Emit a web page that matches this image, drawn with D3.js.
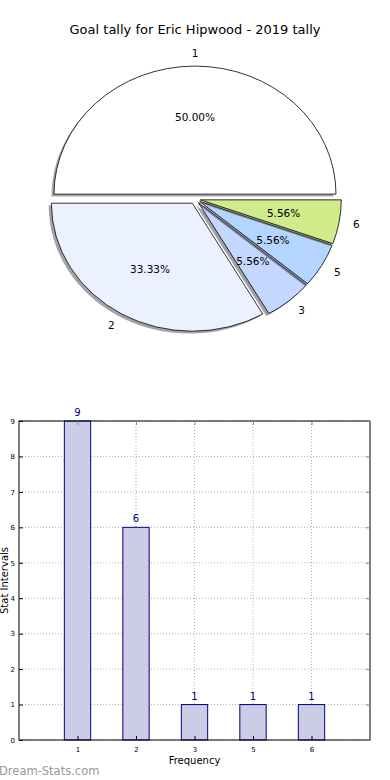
<!DOCTYPE html>
<html>
<head>
<meta charset="utf-8">
<script src="https://cdn.jsdelivr.net/npm/d3@7"></script>
<style>
  body { margin: 0; background: #fff; }
  text { font-family: "DejaVu Sans", sans-serif; }
</style>
</head>
<body>
<div id="chart"></div>
<script>
// data
var categories = ["1", "2", "3", "5", "6"];
var counts = [9, 6, 1, 1, 1];
var sliceColors = ["#ffffff", "#ebf1ff", "#c4d7ff", "#b4d5ff", "#cfeb8a"];
var yTicks = [0, 1, 2, 3, 4, 5, 6, 7, 8, 9];

var W = 390, H = 780;
var svg = d3.select("#chart").append("svg")
    .attr("width", W).attr("height", H);

// title
svg.append("text")
    .attr("x", 195).attr("y", 34)
    .attr("text-anchor", "middle")
    .style("font-size", "13px")
    .text("Goal tally for Eric Hipwood - 2019 tally");

// ---- pie ----
var cx = 195, cy = 199, rx = 141, ry = 128, explode = 0.038;
var total = d3.sum(counts);

var pie = d3.pie().sort(null)
    .startAngle(Math.PI / 2)
    .endAngle(Math.PI / 2 - 2 * Math.PI);
var arcs = pie(counts);
var arc = d3.arc().innerRadius(0).outerRadius(rx);

var pieG = svg.append("g");

arcs.forEach(function (d, i) {
    var mid = (d.startAngle + d.endAngle) / 2;
    var dx = Math.sin(mid) * explode * rx,
        dy = -Math.cos(mid) * explode * ry;
    var ox = cx + dx, oy = cy + dy;

    // shadow
    var c = d3.rgb(sliceColors[i]);
    pieG.append("path")
        .attr("d", arc(d))
        .attr("transform", "translate(" + (ox - 2.6) + "," + (oy + 2.4) + ") scale(1," + (ry / rx) + ")")
        .attr("fill", d3.rgb(c.r * 0.3, c.g * 0.3, c.b * 0.3))
        .attr("fill-opacity", 0.5);

    pieG.append("path")
        .attr("d", arc(d))
        .attr("transform", "translate(" + ox + "," + oy + ") scale(1," + (ry / rx) + ")")
        .attr("fill", sliceColors[i])
        .attr("stroke", "#000")
        .attr("stroke-width", 0.8)
        .attr("vector-effect", "non-scaling-stroke");

    // labels
    pieG.append("text")
        .attr("x", ox + Math.sin(mid) * 1.1 * rx)
        .attr("y", oy - Math.cos(mid) * 1.1 * ry)
        .attr("text-anchor", Math.sin(mid) > 0.01 ? "start" : (Math.sin(mid) < -0.01 ? "end" : "middle"))
        .attr("dy", "0.35em")
        .style("font-size", "10.5px")
        .text(categories[i]);

    pieG.append("text")
        .attr("x", ox + Math.sin(mid) * 0.6 * rx)
        .attr("y", oy - Math.cos(mid) * 0.6 * ry)
        .attr("text-anchor", "middle")
        .attr("dy", "0.35em")
        .style("font-size", "10.5px")
        .text((counts[i] / total * 100).toFixed(2) + "%");
});

// ---- bar chart ----
var bx0 = 19, bx1 = 370, by0 = 421, by1 = 740;

var x = d3.scaleLinear().domain([-1, categories.length]).range([bx0, bx1]);
var y = d3.scaleLinear().domain([0, 9]).range([by1, by0]);
var barW = x(0.45) - x(0);

var g = svg.append("g");

// grid
g.selectAll(".hgrid").data(yTicks).enter().append("line")
    .attr("x1", bx0).attr("x2", bx1)
    .attr("y1", function (d) { return y(d); })
    .attr("y2", function (d) { return y(d); })
    .attr("stroke", "#b0b0b0").attr("stroke-width", 1)
    .attr("stroke-dasharray", "1 2");
g.selectAll(".vgrid").data(categories).enter().append("line")
    .attr("x1", function (d, i) { return x(i); })
    .attr("x2", function (d, i) { return x(i); })
    .attr("y1", by0).attr("y2", by1)
    .attr("stroke", "#b0b0b0").attr("stroke-width", 1)
    .attr("stroke-dasharray", "1 2");

// bars
g.selectAll(".bar").data(counts).enter().append("rect")
    .attr("x", function (d, i) { return x(i) - barW / 2; })
    .attr("y", function (d) { return y(d); })
    .attr("width", barW)
    .attr("height", function (d) { return y(0) - y(d); })
    .attr("fill", "#cccce6")
    .attr("stroke", "#000080")
    .attr("stroke-width", 1);

// values
g.selectAll(".val").data(counts).enter().append("text")
    .attr("x", function (d, i) { return x(i); })
    .attr("y", function (d) { return y(d) - 5; })
    .attr("text-anchor", "middle")
    .attr("fill", "#000080")
    .style("font-size", "10px")
    .text(function (d) { return d; });

// frame
g.append("rect")
    .attr("x", bx0).attr("y", by0)
    .attr("width", bx1 - bx0).attr("height", by1 - by0)
    .attr("fill", "none").attr("stroke", "#000").attr("stroke-width", 1);

// axes (ticks inside)
g.append("g")
    .attr("transform", "translate(" + bx0 + ",0)")
    .call(d3.axisLeft(y).tickValues(yTicks).tickSize(-4).tickPadding(4))
    .call(function (a) {
        a.select(".domain").remove();
        a.selectAll("text").style("font-size", "7px").style("font-family", "DejaVu Sans");
    });
g.append("g")
    .attr("transform", "translate(" + bx1 + ",0)")
    .call(d3.axisRight(y).tickValues(yTicks).tickSize(-4).tickFormat(""))
    .call(function (a) { a.select(".domain").remove(); a.selectAll("line").attr("stroke", "#888"); });

var xAxis = d3.axisBottom(x)
    .tickValues(d3.range(categories.length))
    .tickFormat(function (i) { return categories[i]; })
    .tickSize(-4).tickPadding(7);
g.append("g")
    .attr("transform", "translate(0," + by1 + ")")
    .call(xAxis)
    .call(function (a) {
        a.select(".domain").remove();
        a.selectAll("text").style("font-size", "7px").style("font-family", "DejaVu Sans");
    });
g.append("g")
    .attr("transform", "translate(0," + by0 + ")")
    .call(d3.axisTop(x).tickValues(d3.range(categories.length)).tickSize(-4).tickFormat(""))
    .call(function (a) { a.select(".domain").remove(); a.selectAll("line").attr("stroke", "#888"); });

// axis labels
svg.append("text")
    .attr("transform", "translate(4," + ((by0 + by1) / 2) + ") rotate(-90)")
    .attr("text-anchor", "middle")
    .attr("dy", "0.35em")
    .style("font-size", "10px")
    .text("Stat Intervals");
svg.append("text")
    .attr("x", (bx0 + bx1) / 2).attr("y", 764)
    .attr("text-anchor", "middle")
    .style("font-size", "10px")
    .text("Frequency");

// watermark
svg.append("text")
    .attr("x", -1).attr("y", 775)
    .attr("fill", "#999")
    .style("font-size", "11.5px")
    .text("Dream-Stats.com");
</script>
</body>
</html>
